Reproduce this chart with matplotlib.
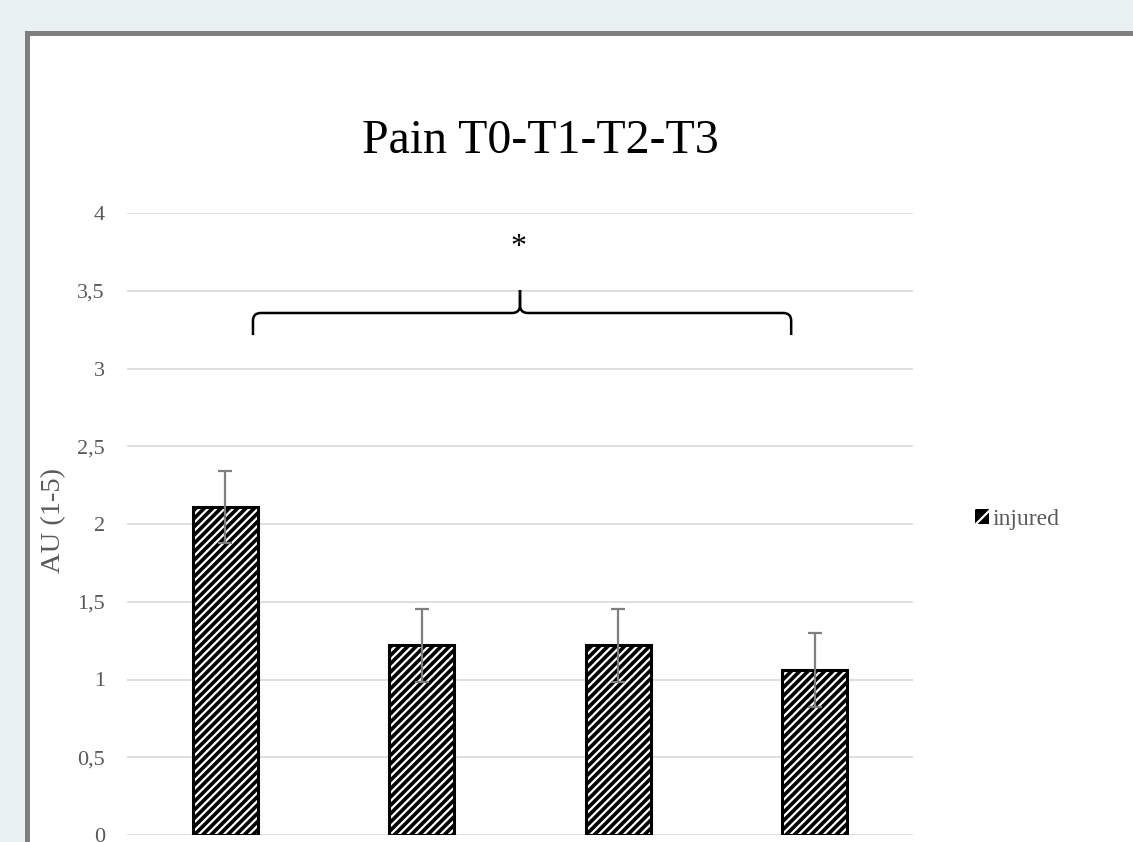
#!/usr/bin/env python3
"""
Pain T0-T1-T2-T3 bar chart (hatched bars, error bars, significance brace)
"""

import matplotlib
matplotlib.use("Agg")
import matplotlib.pyplot as plt
from matplotlib.patches import Rectangle, Patch, PathPatch
from matplotlib.path import Path
from matplotlib.ticker import FuncFormatter

# data
timepoints = ["T0", "T1", "T2", "T3"]
pain_mean = [2.11, 1.22, 1.22, 1.06]
pain_err = [0.23, 0.235, 0.235, 0.24]
y_ticks = [0, 0.5, 1, 1.5, 2, 2.5, 3, 3.5, 4]

plt.rcParams['font.family'] = ['Liberation Serif', 'DejaVu Serif']
plt.rcParams['hatch.linewidth'] = 1.6

W, H = 1133, 842
fig = plt.figure(figsize=(W / 100, H / 100), dpi=100)
fig.patch.set_facecolor('#E9F1F3')

# white panel with a gray frame, cut off at right and bottom
panel = Rectangle((26.5 / W, -1), 2, 1 + (1 - 32.5 / H), transform=fig.transFigure,
                  facecolor='white', edgecolor='#7F7F7F', linewidth=3.6, zorder=-10)
fig.patches.append(panel)

ax = fig.add_axes([127 / W, (H - 835) / H, 786 / W, 622 / H])
ax.set_facecolor('none')

x = list(range(len(timepoints)))
# black bars with white diagonal hatch, then a black outline on top
ax.bar(x, pain_mean, width=0.33, color='black', edgecolor='white',
       hatch='////', linewidth=0, zorder=2)
ax.bar(x, pain_mean, width=0.33, color='none', edgecolor='black',
       linewidth=2.2, zorder=3)
ax.errorbar(x, pain_mean, yerr=pain_err, fmt='none', ecolor='#7F7F7F',
            elinewidth=1.6, capsize=5, capthick=1.6, zorder=4)

ax.set_xlim(-0.5, 3.5)
ax.set_ylim(0, 4)
ax.set_yticks(y_ticks)
ax.yaxis.set_major_formatter(FuncFormatter(lambda v, p: ('%g' % v).replace('.', ',')))
ax.set_xticks([])
ax.tick_params(axis='y', length=0, pad=16, labelsize=16, labelcolor='#595959')
ax.grid(axis='y', color='#D9D9D9', linewidth=1.2, zorder=0)
ax.set_axisbelow(True)
for s in ax.spines.values():
    s.set_visible(False)

ax.set_ylabel("AU (1-5)", fontsize=20.5, color='#595959')
ax.yaxis.set_label_coords(-0.078, 0.506)

# significance brace over all four bars
xl, xr, xm = 0.141, 2.88, 1.5
yb, yh, yt = 3.215, 3.357, 3.505
dx, dy = 0.04, 0.05
for side in (-1, 1):
    xe = xl if side < 0 else xr
    verts = [(xe, yb), (xe, yh - dy), (xe, yh), (xe - side * dx, yh),
             (xm + side * dx, yh), (xm, yh), (xm, yh + dy), (xm, yt)]
    codes = [Path.MOVETO, Path.LINETO, Path.CURVE3, Path.CURVE3,
             Path.LINETO, Path.CURVE3, Path.CURVE3, Path.LINETO]
    ax.add_patch(PathPatch(Path(verts, codes), facecolor='none',
                           edgecolor='black', linewidth=1.8, zorder=5,
                           clip_on=False))
ax.text(1.49, 3.78, "*", ha='center', va='center', fontsize=23, color='black')

fig.text(540 / W, (H - 153) / H, "Pain T0-T1-T2-T3", ha='center',
         va='baseline', fontsize=34.5, color='black')

handle = Patch(facecolor='black', edgecolor='white', hatch='//', linewidth=0)
fig.legend([handle], ["injured"], loc='center left',
           bbox_to_anchor=(963 / W, (H - 519) / H), frameon=False,
           fontsize=17, labelcolor='#595959', handlelength=0.6,
           handleheight=0.6, handletextpad=0.15, borderpad=0)

fig.savefig("out.png", dpi=100, facecolor=fig.get_facecolor())
